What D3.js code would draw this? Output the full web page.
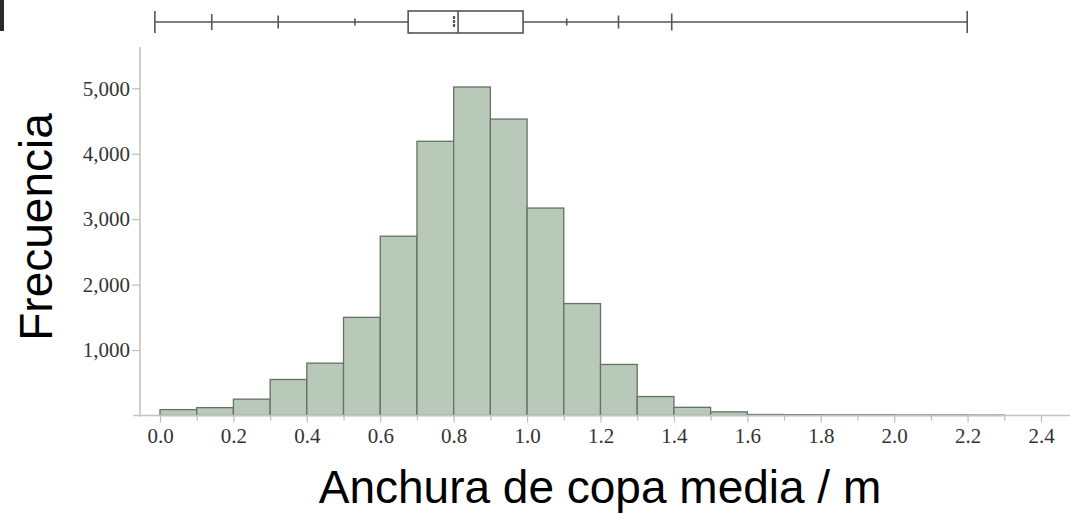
<!DOCTYPE html>
<html>
<head>
<meta charset="utf-8">
<script src="https://cdn.jsdelivr.net/npm/d3@7"></script>
<style>
  body { margin: 0; background: #fff; }
  svg { display: block; }
</style>
</head>
<body>
<svg id="chart" width="1070" height="514"></svg>
<script>
// histogram bins (lower edge, m) and counts
const binStarts = [0.0, 0.1, 0.2, 0.3, 0.4, 0.5, 0.6, 0.7, 0.8, 0.9, 1.0, 1.1, 1.2, 1.3, 1.4, 1.5, 1.6, 1.7, 1.8, 1.9, 2.0, 2.1, 2.2]
const counts = [90, 120, 250, 550, 800, 1500, 2740, 4190, 5020, 4530, 3170, 1710, 780, 290, 125, 55, 15, 12, 10, 10, 8, 8, 6]
const binWidth = 0.1

const xTicks = [0.0, 0.2, 0.4, 0.6, 0.8, 1.0, 1.2, 1.4, 1.6, 1.8, 2.0, 2.2, 2.4]
const xMinorTicks = [0.1, 0.3, 0.5, 0.7, 0.9, 1.1, 1.3, 1.5, 1.7, 1.9, 2.1, 2.3]
const yTicks = [1000, 2000, 3000, 4000, 5000]

// box plot on top
const boxWhiskers = [-0.014, 2.199]
const boxQuartiles = [0.676, 0.812, 0.989]
const boxMean = 0.801
const quantileMarks = [0.141, 0.322, 0.531, 1.108, 1.249, 1.394]

const xLabel = "Anchura de copa media / m"
const yLabel = "Frecuencia"

chart = () => {
    const svg = d3.select("#chart")
    const serif = "'Liberation Serif', 'Times New Roman', serif"
    const sans = "'Liberation Sans', Arial, sans-serif"

    const x = d3.scaleLinear().domain([0, 2.4]).range([160, 1041])
    const y = d3.scaleLinear().domain([0, 5000]).range([415.5, 88.3])

    // dark corner piece at top left
    svg.append("rect")
        .attr("x", 0).attr("y", 0)
        .attr("width", 4).attr("height", 31)
        .attr("fill", "#2a2a2a")

    // bars
    svg.append("g")
        .selectAll("rect")
        .data(binStarts.map((d, i) => ({ x0: d, x1: d + binWidth, n: counts[i] })))
        .join("rect")
        .attr("x", d => x(d.x0))
        .attr("width", d => x(d.x1) - x(d.x0))
        .attr("y", d => y(d.n))
        .attr("height", d => y(0) - y(d.n))
        .attr("fill", "#b9c9b9")
        .attr("stroke", "#627264")
        .attr("stroke-width", 1.3)

    // axis lines
    svg.append("line")
        .attr("x1", 133).attr("x2", 1070)
        .attr("y1", y(0)).attr("y2", y(0))
        .attr("stroke", "#c4c4c4").attr("stroke-width", 1.6)
    svg.append("line")
        .attr("x1", 140).attr("x2", 140)
        .attr("y1", 47).attr("y2", y(0) + 1)
        .attr("stroke", "#c4c4c4").attr("stroke-width", 1.6)

    // x axis
    const gx = svg.append("g")
        .attr("transform", `translate(0,${y(0)})`)
        .call(d3.axisBottom(x).tickValues(xTicks).tickFormat(d3.format(".1f")).tickSize(7).tickPadding(6))
    gx.select(".domain").remove()
    gx.selectAll("line").attr("stroke", "#bdbdbd").attr("stroke-width", 1.2)
    gx.selectAll("text")
        .attr("font-family", serif)
        .attr("font-size", 21)
        .attr("fill", "#333")

    const gxm = svg.append("g")
        .attr("transform", `translate(0,${y(0)})`)
        .call(d3.axisBottom(x).tickValues(xMinorTicks).tickFormat("").tickSize(5))
    gxm.select(".domain").remove()
    gxm.selectAll("line").attr("stroke", "#bdbdbd").attr("stroke-width", 1.2)

    // y axis
    const gy = svg.append("g")
        .attr("transform", "translate(140,0)")
        .call(d3.axisLeft(y).tickValues(yTicks).tickFormat(d3.format(",")).tickSize(8).tickPadding(2))
    gy.select(".domain").remove()
    gy.selectAll("line").attr("stroke", "#bdbdbd").attr("stroke-width", 1.2)
    gy.selectAll("text")
        .attr("font-family", serif)
        .attr("font-size", 21)
        .attr("fill", "#333")

    // box plot
    const by = 22
    const bp = svg.append("g")
        .attr("stroke", "#555")
        .attr("stroke-width", 1.6)
    bp.append("line")
        .attr("x1", x(boxWhiskers[0])).attr("x2", x(boxWhiskers[1]))
        .attr("y1", by).attr("y2", by)
    bp.selectAll(".cap")
        .data(boxWhiskers)
        .join("line")
        .attr("class", "cap")
        .attr("x1", d => x(d)).attr("x2", d => x(d))
        .attr("y1", by - 11).attr("y2", by + 11)
    const markHalf = [8, 6.5, 3.5, 3.5, 6.5, 8.5]
    bp.selectAll(".q")
        .data(quantileMarks)
        .join("line")
        .attr("class", "q")
        .attr("x1", d => x(d)).attr("x2", d => x(d))
        .attr("y1", (d, i) => by - markHalf[i]).attr("y2", (d, i) => by + markHalf[i])
    bp.append("rect")
        .attr("x", x(boxQuartiles[0]))
        .attr("width", x(boxQuartiles[2]) - x(boxQuartiles[0]))
        .attr("y", by - 11).attr("height", 22)
        .attr("fill", "#fff")
    bp.append("line")
        .attr("x1", x(boxQuartiles[1])).attr("x2", x(boxQuartiles[1]))
        .attr("y1", by - 11).attr("y2", by + 11)
    bp.append("line")
        .attr("x1", x(boxMean)).attr("x2", x(boxMean))
        .attr("y1", by - 6).attr("y2", by + 6)
        .attr("stroke-width", 2.2)
        .attr("stroke-dasharray", "3,1")

    // axis titles
    svg.append("text")
        .attr("x", 600).attr("y", 503)
        .attr("text-anchor", "middle")
        .attr("font-family", sans)
        .attr("font-size", 46)
        .attr("fill", "#000")
        .text(xLabel)
    svg.append("text")
        .attr("transform", "translate(52,227) rotate(-90)")
        .attr("text-anchor", "middle")
        .attr("font-family", sans)
        .attr("font-size", 46)
        .attr("fill", "#000")
        .text(yLabel)
}

chart()
</script>
</body>
</html>
